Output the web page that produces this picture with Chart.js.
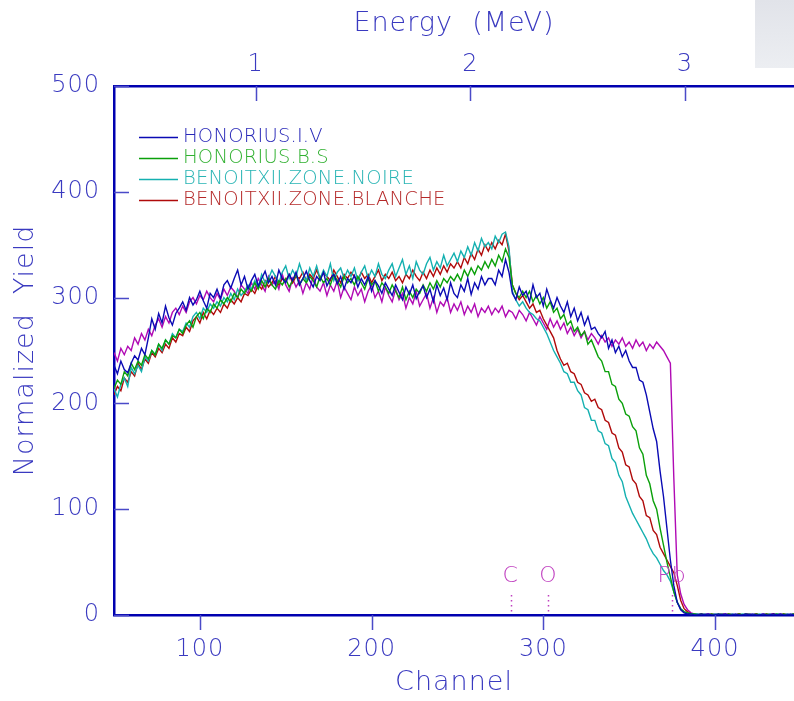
<!DOCTYPE html>
<html>
<head>
<meta charset="utf-8">
<title>RBS</title>
<script src="https://cdn.jsdelivr.net/npm/chart.js@4.4.1/dist/chart.umd.min.js"></script>
<style>
  html, body { margin: 0; padding: 0; background: #fff; }
  #wrap { position: relative; width: 794px; height: 701px; }
  #scan { position: absolute; left: 755px; top: 0; width: 39px; height: 68px; background: linear-gradient(#e1e3e9, #eceef2); }
  canvas { position: absolute; left: 0; top: 0; }
</style>
</head>
<body>
<div id="wrap"><div id="scan"></div><canvas id="rbs" width="794" height="701"></canvas></div>
<script>
// Spectres RBS normalisés, un point tous les 2 canaux à partir du canal 50
const FIRST_CHANNEL = 50;
const CHANNEL_STEP = 2;
const LAST_CHANNEL = 446;

const channelTicks = [100, 200, 300, 400];
const yieldTicks = [0, 100, 200, 300, 400, 500];
const energyTicks = [1, 2, 3];
// calibration: E (MeV) = gain * canal + offset
const ENERGY_GAIN = 0.008;
const ENERGY_OFFSET = -0.06;

const edgeLabels = ['C', 'O', 'Pb'];
const edgeChannels = [281, 303, 375];

const seriesNames = ['HONORIUS.I.V', 'HONORIUS.B.S', 'BENOITXII.ZONE.NOIRE', 'BENOITXII.ZONE.BLANCHE'];

const honoriusIV = [
  236, 228, 240, 232, 229, 238, 245, 241, 252, 246,
  262, 280, 270, 285, 276, 292, 281, 274, 285, 290,
  296, 288, 300, 293, 298, 306, 297, 290, 304, 300,
  308, 299, 312, 316, 309, 318, 326, 312, 320, 308,
  316, 322, 311, 318, 325, 314, 320, 312, 326, 318,
  314, 322, 316, 324, 312, 318, 325, 316, 310, 320,
  316, 324, 311, 318, 322, 313, 320, 308, 318, 314,
  321, 310, 318, 312, 320, 306, 316, 311, 304, 314,
  308, 302, 312, 305, 298, 310, 303, 312, 299, 306,
  311, 300, 308, 296, 312, 302, 309, 298, 314, 304,
  300, 312, 306, 318, 303, 314, 308, 320, 312, 318,
  318, 312, 326, 320, 336, 324, 304, 298, 310, 302,
  306, 296, 312, 300, 304, 292, 308, 298, 290, 300,
  292, 286, 296, 282, 290, 278, 286, 274, 282, 270,
  272, 266, 262, 268, 252, 260, 248, 254, 244, 250,
  240, 234, 234, 222, 220, 208, 192, 176, 164, 136,
  112, 82, 52, 28, 12, 5, 2, 1, 1, 0,
  0, 1, 0, 1, 0, 0, 1, 0, 1, 0,
  0, 1, 0, 0, 1, 0, 1, 0, 0, 1,
  0, 0, 1, 0, 1, 0, 0, 1, 0
];

const honoriusBS = [
  214, 222, 218, 230, 226, 238, 232, 240, 236, 246,
  242, 250, 246, 256, 252, 260, 256, 264, 262, 270,
  266, 274, 278, 272, 282, 286, 280, 290, 286, 294,
  290, 298, 294, 300, 296, 304, 300, 308, 304, 310,
  306, 314, 308, 316, 310, 318, 312, 308, 316, 312,
  318, 310, 316, 322, 312, 318, 314, 320, 316, 310,
  320, 314, 318, 312, 322, 316, 310, 320, 314, 318,
  312, 320, 314, 308, 318, 312, 316, 306, 314, 310,
  304, 312, 306, 300, 310, 298, 306, 300, 308, 304,
  312, 306, 314, 308, 316, 310, 318, 314, 320, 316,
  322, 316, 326, 320, 328, 322, 330, 326, 334, 328,
  336, 330, 340, 334, 346, 338, 312, 304, 300, 306,
  300, 306, 296, 302, 294, 300, 290, 296, 286, 290,
  280, 284, 274, 278, 268, 272, 264, 268, 256, 260,
  252, 244, 240, 230, 230, 218, 216, 204, 200, 190,
  188, 178, 174, 158, 152, 132, 124, 108, 100, 82,
  66, 50, 36, 22, 12, 6, 3, 2, 1, 1,
  0, 1, 0, 0, 1, 0, 1, 0, 0, 1,
  0, 0, 1, 0, 1, 0, 0, 1, 0, 0,
  1, 0, 0, 1, 0, 1, 0, 0, 1
];

const benoitNoire = [
  214, 206, 218, 224, 216, 234, 228, 236, 230, 244,
  240, 250, 246, 256, 250, 260, 256, 266, 262, 270,
  268, 276, 272, 282, 286, 280, 290, 286, 294, 290,
  296, 292, 300, 296, 304, 298, 308, 302, 306, 312,
  308, 316, 310, 322, 314, 318, 326, 320, 314, 324,
  330, 318, 326, 320, 332, 322, 316, 328, 320, 330,
  318, 326, 320, 332, 316, 324, 328, 318, 326, 320,
  328, 316, 324, 330, 318, 326, 320, 332, 322, 318,
  326, 332, 320, 328, 336, 322, 330, 318, 334, 326,
  322, 332, 338, 326, 334, 328, 340, 330, 336, 342,
  334, 344, 338, 348, 340, 352, 344, 356, 348, 352,
  346, 358, 352, 360, 362, 348, 306, 298, 292, 296,
  290, 286, 284, 280, 278, 272, 266, 258, 250, 244,
  238, 230, 228, 220, 220, 212, 208, 196, 194, 184,
  184, 174, 172, 162, 160, 148, 144, 132, 126, 112,
  104, 96, 90, 84, 78, 72, 64, 58, 54, 48,
  42, 38, 32, 22, 12, 6, 3, 2, 1, 1,
  1, 0, 1, 0, 0, 1, 0, 1, 0, 0,
  1, 0, 0, 1, 0, 1, 0, 0, 1, 0,
  0, 1, 0, 1, 0, 0, 1, 0, 1
];

const benoitBlanche = [
  208, 216, 212, 224, 220, 230, 226, 238, 232, 242,
  238, 248, 244, 252, 248, 256, 252, 262, 258, 266,
  264, 272, 268, 278, 282, 276, 286, 280, 288, 284,
  290, 286, 294, 290, 298, 294, 300, 296, 304, 302,
  308, 304, 312, 308, 316, 310, 314, 320, 312, 318,
  316, 322, 314, 320, 318, 324, 316, 322, 318, 326,
  318, 324, 320, 316, 326, 320, 314, 322, 318, 324,
  320, 316, 324, 318, 322, 314, 320, 326, 316, 322,
  318, 324, 316, 320, 314, 322, 318, 326, 320, 316,
  324, 318, 326, 320, 328, 322, 330, 324, 332, 328,
  334, 328, 338, 332, 342, 336, 346, 340, 350, 344,
  352, 346, 354, 350, 360, 344, 312, 304, 298, 302,
  296, 290, 294, 286, 288, 280, 274, 268, 262, 250,
  242, 236, 238, 230, 228, 220, 218, 210, 208, 202,
  204, 196, 194, 184, 182, 172, 170, 158, 154, 142,
  140, 128, 124, 112, 108, 94, 92, 80, 76, 64,
  58, 52, 46, 40, 28, 14, 6, 3, 1, 1,
  0, 1, 0, 0, 1, 0, 0, 1, 0, 1,
  0, 0, 1, 0, 0, 1, 0, 1, 0, 0,
  1, 0, 1, 0, 0, 1, 0, 0, 1
];

// spectre tracé sans entrée de légende
const unlabeledYield = [
  248, 240, 252, 246, 254, 250, 262, 256, 266, 260,
  270, 264, 274, 280, 272, 282, 276, 286, 290, 284,
  292, 286, 296, 300, 294, 302, 298, 306, 300, 296,
  304, 298, 308, 302, 310, 306, 300, 312, 308, 304,
  314, 308, 318, 312, 306, 320, 312, 316, 308, 322,
  312, 306, 318, 310, 316, 304, 314, 308, 320, 310,
  306, 314, 302, 312, 306, 316, 300, 310, 304, 298,
  310, 302, 308, 296, 306, 312, 300, 306, 296, 310,
  302, 296, 308, 298, 304, 290, 300, 294, 306, 292,
  298, 304, 290, 300, 286, 296, 292, 300, 286, 294,
  288, 296, 284, 292, 286, 294, 282, 290, 286, 292,
  284, 290, 286, 292, 282, 288, 286, 280, 288, 284,
  278, 286, 280, 274, 282, 276, 270, 280, 272, 278,
  270, 276, 266, 272, 264, 270, 262, 268, 260, 266,
  262, 256, 264, 258, 262, 254, 260, 256, 262, 254,
  258, 252, 260, 254, 258, 250, 256, 252, 258, 254,
  250, 244, 238, 130, 38, 20, 10, 5, 2, 1,
  1, 0, 1, 1, 0, 1, 0, 1, 1, 0,
  1, 0, 1, 0, 1, 1, 0, 1, 0, 1,
  0, 1, 1, 0, 1, 0, 1, 0, 1
];

const AXIS_COLOR = '#0000b0';
const TICK_COLOR = '#4a4ac8';
const TEXT_COLOR = '#3a3ac0';
const EDGE_COLOR = '#c040c0';
const FONT = '"DejaVu Sans", sans-serif';
const FONT_WEIGHT = '200';

const seriesColors = ['#0a0ab4', '#0aa00a', '#14b0b0', '#b00a0a'];
const legendTextColors = ['#2828b8', '#30b030', '#28b4b4', '#b42828'];
const UNLABELED_COLOR = '#b00ab4';

function toPoints(values) {
  return values.map((v, i) => ({ x: FIRST_CHANNEL + i * CHANNEL_STEP, y: v }));
}

const allSeries = [honoriusIV, honoriusBS, benoitNoire, benoitBlanche];
const datasets = allSeries.map((vals, i) => ({
  label: seriesNames[i],
  data: toPoints(vals),
  borderColor: seriesColors[i],
  borderWidth: 1.4,
  pointRadius: 0,
  tension: 0,
  fill: false
}));
datasets.push({
  label: '',
  data: toPoints(unlabeledYield),
  borderColor: UNLABELED_COLOR,
  borderWidth: 1.4,
  pointRadius: 0,
  tension: 0,
  fill: false
});

// espacement des lettres, remis à chaque dessin (le contexte est réinitialisé au redimensionnement)
const letterSpacing = {
  id: 'letterSpacing',
  beforeLayout(chart) { chart.ctx.letterSpacing = '1px'; },
  beforeDraw(chart) { chart.ctx.letterSpacing = '1px'; }
};

// petits traits de graduation : vers l'intérieur à gauche et en haut, vers l'extérieur en bas
const tickMarks = {
  id: 'tickMarks',
  afterDraw(chart) {
    const { ctx, chartArea, scales } = chart;
    ctx.save();
    ctx.strokeStyle = TICK_COLOR;
    ctx.lineWidth = 1.5;
    ctx.beginPath();
    yieldTicks.forEach(v => {
      const y = Math.round(scales.y.getPixelForValue(v)) + 0.5;
      ctx.moveTo(chartArea.left, y);
      ctx.lineTo(chartArea.left + 15, y);
    });
    channelTicks.forEach(v => {
      const x = Math.round(scales.x.getPixelForValue(v)) + 0.5;
      ctx.moveTo(x, chartArea.bottom);
      ctx.lineTo(x, chartArea.bottom + 15);
    });
    energyTicks.forEach(v => {
      const x = Math.round(scales.energy.getPixelForValue(v)) + 0.5;
      ctx.moveTo(x, chartArea.top);
      ctx.lineTo(x, chartArea.top + 15);
    });
    ctx.stroke();
    ctx.restore();
  }
};

// seuils cinématiques des éléments (C, O, Pb)
const edgeMarkers = {
  id: 'edgeMarkers',
  afterDatasetsDraw(chart) {
    const { ctx, scales } = chart;
    ctx.save();
    ctx.fillStyle = EDGE_COLOR;
    ctx.strokeStyle = EDGE_COLOR;
    ctx.font = FONT_WEIGHT + ' 22px ' + FONT;
    ctx.textAlign = 'center';
    ctx.textBaseline = 'middle';
    ctx.lineWidth = 1.5;
    ctx.setLineDash([1.5, 3.5]);
    edgeLabels.forEach((lab, i) => {
      const x = scales.x.getPixelForValue(edgeChannels[i]);
      ctx.fillText(lab, x, scales.y.getPixelForValue(37));
      ctx.beginPath();
      ctx.moveTo(Math.round(x) + 0.5, scales.y.getPixelForValue(19));
      ctx.lineTo(Math.round(x) + 0.5, scales.y.getPixelForValue(1));
      ctx.stroke();
    });
    ctx.restore();
  }
};

const insetLegend = {
  id: 'insetLegend',
  afterDatasetsDraw(chart) {
    const { ctx, chartArea } = chart;
    ctx.save();
    ctx.font = FONT_WEIGHT + ' 19.5px ' + FONT;
    ctx.letterSpacing = '0.2px';
    ctx.textBaseline = 'middle';
    ctx.textAlign = 'left';
    seriesNames.forEach((name, i) => {
      const y = chartArea.top + 51 + i * 21;
      ctx.strokeStyle = seriesColors[i];
      ctx.lineWidth = 1.3;
      ctx.beginPath();
      ctx.moveTo(chartArea.left + 25, y + 0.5);
      ctx.lineTo(chartArea.left + 64, y + 0.5);
      ctx.stroke();
      ctx.fillStyle = legendTextColors[i];
      ctx.fillText(name, chartArea.left + 69, y);
    });
    ctx.restore();
  }
};

const tickFont = { family: FONT, size: 24, weight: FONT_WEIGHT };
const titleFont = { family: FONT, size: 27, weight: FONT_WEIGHT };

new Chart(document.getElementById('rbs').getContext('2d'), {
  type: 'line',
  data: { datasets: datasets },
  options: {
    responsive: false,
    animation: false,
    events: [],
    layout: { padding: 0 },
    plugins: { legend: { display: false }, tooltip: { enabled: false } },
    scales: {
      x: {
        type: 'linear',
        position: 'bottom',
        min: FIRST_CHANNEL,
        max: LAST_CHANNEL,
        afterBuildTicks: s => { s.ticks = channelTicks.map(v => ({ value: v })); },
        afterFit: s => { s.height = 86; },
        grid: { display: false, drawTicks: false },
        border: { display: true, color: AXIS_COLOR, width: 2.5 },
        ticks: { color: TEXT_COLOR, font: tickFont, padding: 20, maxRotation: 0, autoSkip: false },
        title: { display: true, text: 'Channel', color: TEXT_COLOR, font: titleFont, padding: { top: 0, bottom: 2 } }
      },
      energy: {
        type: 'linear',
        position: 'top',
        min: ENERGY_GAIN * FIRST_CHANNEL + ENERGY_OFFSET,
        max: ENERGY_GAIN * LAST_CHANNEL + ENERGY_OFFSET,
        afterBuildTicks: s => { s.ticks = energyTicks.map(v => ({ value: v })); },
        afterFit: s => { s.height = 86; },
        grid: { display: false, drawTicks: false },
        border: { display: true, color: AXIS_COLOR, width: 2.5 },
        ticks: { color: TEXT_COLOR, font: tickFont, padding: 7, maxRotation: 0, autoSkip: false },
        title: { display: true, text: 'Energy  (MeV)', color: TEXT_COLOR, font: titleFont, padding: { top: 8, bottom: 0 } }
      },
      y: {
        min: 0,
        max: 500,
        afterBuildTicks: s => { s.ticks = yieldTicks.map(v => ({ value: v })); },
        afterFit: s => { s.width = 114; },
        grid: { display: false, drawTicks: false },
        border: { display: true, color: AXIS_COLOR, width: 2.5 },
        ticks: { color: TEXT_COLOR, font: tickFont, padding: 14, autoSkip: false },
        title: { display: true, text: 'Normalized  Yield', color: TEXT_COLOR, font: titleFont, padding: { top: 10, bottom: 0 } }
      }
    }
  },
  plugins: [letterSpacing, tickMarks, edgeMarkers, insetLegend]
});
</script>
</body>
</html>
